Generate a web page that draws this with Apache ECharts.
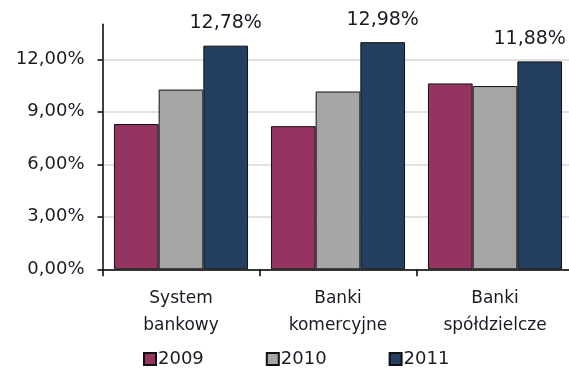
<!DOCTYPE html>
<html>
<head>
<meta charset="utf-8">
<script src="https://cdn.jsdelivr.net/npm/echarts@6/dist/echarts.min.js"></script>
<style>
    html, body { margin: 0; padding: 0; background: #fff; }
    #chart { width: 569px; height: 369px; }
</style>
</head>
<body>
<div id="chart"></div>
<script>
// kategorie i wartosci (w %)
var categories = ['System\nbankowy', 'Banki\nkomercyjne', 'Banki\nspółdzielcze'];
var years = ['2009', '2010', '2011'];
var values2009 = [8.30, 8.18, 10.62];
var values2010 = [10.27, 10.16, 10.47];
var values2011 = [12.78, 12.98, 11.88];
var yTicks = [0, 3, 6, 9, 12];

var font = 'DejaVu Sans';
var textColor = '#1b1b24';

function pct(v) {
    return v.toFixed(2).replace('.', ',') + '%';
}

var myChart = echarts.init(document.getElementById('chart'));

var option = {
    animation: false,
    backgroundColor: '#fff',
    grid: {
        left: 102.5,
        width: 471,
        top: 24.3,
        bottom: 99.7,
        outerBoundsMode: 'none'
    },
    legend: {
        data: years,
        bottom: -4,
        left: 138,
        itemWidth: 12,
        itemHeight: 12,
        itemGap: 62,
        icon: 'rect',
        textStyle: {
            fontFamily: font,
            fontSize: 18,
            color: textColor,
            padding: [0, 0, 0, -3]
        }
    },
    xAxis: {
        type: 'category',
        data: categories,
        axisLine: { lineStyle: { color: '#000', width: 1.5 } },
        axisTick: { show: true, length: 7, lineStyle: { color: '#000', width: 1.5 } },
        axisLabel: {
            fontFamily: font,
            fontSize: 17,
            color: textColor,
            lineHeight: 27,
            margin: 16
        }
    },
    yAxis: {
        type: 'value',
        min: 0,
        max: 14,
        interval: 3,
        axisLine: { show: true, lineStyle: { color: '#000', width: 1.5 } },
        axisTick: { show: true, length: 5, customValues: yTicks, lineStyle: { color: '#000', width: 1.5 } },
        splitLine: {
            show: true,
            lineStyle: { color: ['#d9d9d9', '#d9d9d9', '#d9d9d9', '#d9d9d9', '#d9d9d9', 'rgba(0,0,0,0)'], width: 1.5 }
        },
        axisLabel: {
            fontFamily: font,
            fontSize: 18,
            color: textColor,
            margin: 18,
            customValues: yTicks,
            formatter: function (v) {
                return yTicks.indexOf(v) >= 0 ? pct(v) : '';
            }
        }
    },
    series: [{
        name: '2009',
        type: 'bar',
        barGap: '0%',
        barCategoryGap: '14.6%',
        itemStyle: { color: '#953461', borderColor: '#111', borderWidth: 1 },
        data: values2009
    }, {
        name: '2010',
        type: 'bar',
        itemStyle: { color: '#a6a6a6', borderColor: '#111', borderWidth: 1 },
        data: values2010
    }, {
        name: '2011',
        type: 'bar',
        itemStyle: { color: '#243f60', borderColor: '#111', borderWidth: 1 },
        label: {
            show: true,
            position: 'top',
            distance: 13,
            fontFamily: font,
            fontSize: 19,
            color: textColor,
            formatter: function (p) { return pct(p.value); }
        },
        data: values2011.map(function (v, i) {
            // ostatnia etykieta przesunieta w lewo jak w oryginale
            return i === 2 ? { value: v, label: { offset: [-10, 0] } } : v;
        })
    }]
};
myChart.setOption(option);
</script>
</body>
</html>
